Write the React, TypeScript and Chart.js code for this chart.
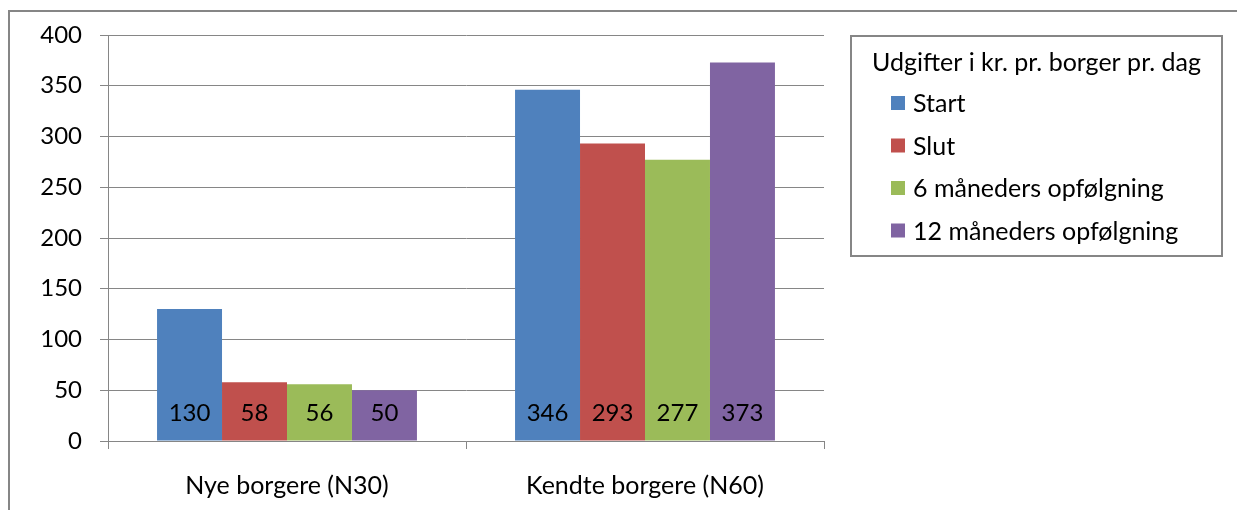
import React, { useEffect, useRef } from "react";
import { Chart, registerables } from "chart.js";

Chart.register(...registerables);

const categories = ["Nye borgere (N30)", "Kendte borgere (N60)"];
const seriesNames = ["Start", "Slut", "6 måneders opfølgning", "12 måneders opfølgning"];
const startValues = [130, 346];
const slutValues = [58, 293];
const sixMonthValues = [56, 277];
const twelveMonthValues = [50, 373];
const seriesColors = ["#4F81BD", "#C0504D", "#9BBB59", "#8064A2"];
const legendTitle = "Udgifter i kr. pr. borger pr. dag";
const yMin = 0;
const yMax = 400;
const yStep = 50;

const FONT = "Lato, 'Open Sans', sans-serif";
const GRID = "#868686";
const TEXT_SIZE = 25;
const DIGIT_SIZE = 24;

const framePlugin = {
  id: "frame",
  beforeDraw(chart: any) {
    const ctx = chart.ctx;
    ctx.save();
    ctx.fillStyle = "#ffffff";
    ctx.fillRect(0, 0, chart.width, chart.height);
    ctx.strokeStyle = GRID;
    ctx.lineWidth = 2;
    ctx.beginPath();
    ctx.moveTo(9, chart.height);
    ctx.lineTo(9, 11);
    ctx.lineTo(chart.width, 11);
    ctx.stroke();
    ctx.restore();
  },
};

const valueLabelPlugin = {
  id: "valueLabels",
  afterDatasetsDraw(chart: any) {
    const ctx = chart.ctx;
    ctx.save();
    ctx.font = `${DIGIT_SIZE}px ${FONT}`;
    ctx.fillStyle = "#000000";
    ctx.textAlign = "center";
    ctx.textBaseline = "middle";
    chart.data.datasets.forEach((ds: any, i: number) => {
      const meta = chart.getDatasetMeta(i);
      meta.data.forEach((bar: any, j: number) => {
        ctx.fillText(String(ds.data[j]), bar.x, bar.base - 27);
      });
    });
    ctx.restore();
  },
};

const legendBoxPlugin = {
  id: "legendBox",
  afterDraw(chart: any) {
    const ctx = chart.ctx;
    ctx.save();
    const left = 851, top = 36, right = 1222, bottom = 256;
    ctx.strokeStyle = GRID;
    ctx.lineWidth = 2;
    ctx.strokeRect(left, top, right - left, bottom - top);
    ctx.font = `${TEXT_SIZE}px ${FONT}`;
    ctx.fillStyle = "#000000";
    ctx.textBaseline = "middle";
    ctx.textAlign = "center";
    ctx.fillText(legendTitle, (left + right) / 2, 63);
    ctx.textAlign = "left";
    chart.data.datasets.forEach((ds: any, i: number) => {
      const cy = 103 + i * 42.5;
      ctx.fillStyle = ds.backgroundColor;
      ctx.fillRect(891, cy - 7, 14, 14);
      ctx.fillStyle = "#000000";
      ctx.fillText(ds.label, 913, cy + 1);
    });
    ctx.restore();
  },
};

export default function App() {
  const canvasRef = useRef<HTMLCanvasElement | null>(null);

  useEffect(() => {
    if (!canvasRef.current) return;
    const seriesValues = [startValues, slutValues, sixMonthValues, twelveMonthValues];
    const chart = new Chart(canvasRef.current, {
      type: "bar",
      data: {
        labels: categories,
        datasets: seriesNames.map((name, i) => ({
          label: name,
          data: seriesValues[i],
          backgroundColor: seriesColors[i],
          borderWidth: 0,
          categoryPercentage: 0.726,
          barPercentage: 1.0,
        })),
      },
      options: {
        animation: false,
        responsive: false,
        maintainAspectRatio: false,
        devicePixelRatio: 1,
        layout: { padding: { left: 0, top: 35, right: 413, bottom: 0 } },
        plugins: {
          legend: { display: false },
          tooltip: { enabled: false },
          title: { display: false },
        },
        scales: {
          x: {
            offset: true,
            grid: {
              offset: true,
              drawOnChartArea: false,
              drawTicks: true,
              tickLength: 8,
              color: GRID,
              lineWidth: 1,
            },
            border: { color: GRID, width: 1 },
            ticks: {
              color: "#000000",
              font: { family: FONT, size: TEXT_SIZE },
              padding: 22,
              maxRotation: 0,
            },
            afterFit(scale: any) {
              scale.height = 69;
            },
          },
          y: {
            min: yMin,
            max: yMax,
            ticks: {
              stepSize: yStep,
              color: "#000000",
              font: { family: FONT, size: DIGIT_SIZE },
              padding: 18,
            },
            grid: {
              color: GRID,
              lineWidth: 1,
              tickLength: 8,
              drawTicks: true,
            },
            border: { color: GRID, width: 1 },
            afterFit(scale: any) {
              scale.width = 108;
            },
          },
        },
      },
      plugins: [framePlugin, valueLabelPlugin, legendBoxPlugin],
    });
    return () => chart.destroy();
  }, []);

  return (
    <div style={{ position: "fixed", left: 0, top: 0, width: 1237, height: 510, background: "#fff" }}>
      <canvas ref={canvasRef} width={1237} height={510} style={{ display: "block", width: 1237, height: 510 }} />
    </div>
  );
}
